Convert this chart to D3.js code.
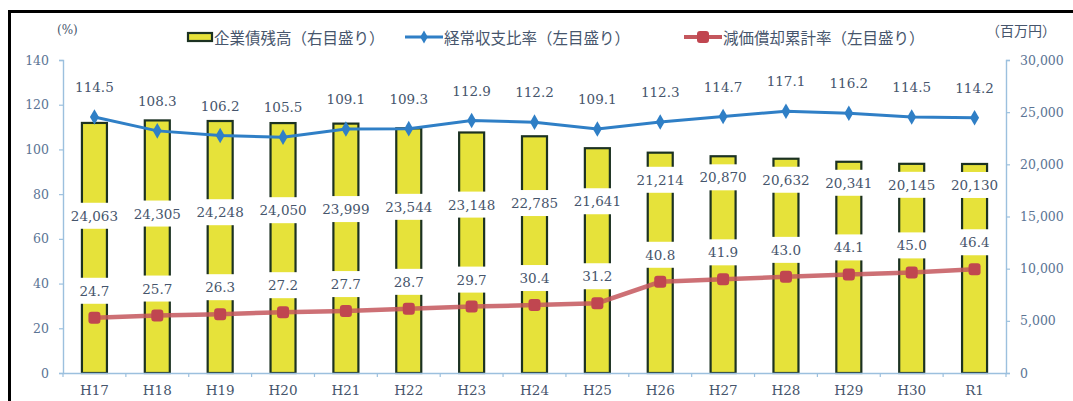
<!DOCTYPE html>
<html><head><meta charset="utf-8">
<script src="https://cdn.jsdelivr.net/npm/d3@7"></script>
<style>
html,body{margin:0;padding:0;background:#fff;}
svg{display:block;}
</style></head>
<body>
<svg id="chart" width="1073" height="401"></svg>
<script>
const categories = ["H17","H18","H19","H20","H21","H22","H23","H24","H25","H26","H27","H28","H29","H30","R1"];
const debtBalance = [24063,24305,24248,24050,23999,23544,23148,22785,21641,21214,20870,20632,20341,20145,20130];
const currentRatio = [114.5,108.3,106.2,105.5,109.1,109.3,112.9,112.2,109.1,112.3,114.7,117.1,116.2,114.5,114.2];
const deprRatio = [24.7,25.7,26.3,27.2,27.7,28.7,29.7,30.4,31.2,40.8,41.9,43.0,44.1,45.0,46.4];
const leftTicks = [0,20,40,60,80,100,120,140];
const rightTicks = [0,5000,10000,15000,20000,25000,30000];
const legendLabels = ["企業債残高（右目盛り）","経常収支比率（左目盛り）","減価償却累計率（左目盛り）"];
const unitLeft = "(%)";
const unitRight = "（百万円）";

const svg = d3.select("#chart");
const W = 1073, H = 401;
const m = {left:63, right:1006, top:60, bottom:373};
const serif = "'DejaVu Serif', 'Liberation Serif', serif";
const cjk = "'Noto Sans CJK JP', sans-serif";
const labelColor = "#46556c";
const tickColor = "#5b7494";
const axisColor = "#9cc0de";
const blue = "#2f7fc6";
const red = "#c4575d";
const yellow = "#e6e23a";
const barStroke = "#1c3222";

// frame
svg.append("line").attr("x1",8).attr("x2",W).attr("y1",11.5).attr("y2",11.5).attr("stroke","#000").attr("stroke-width",3);
svg.append("line").attr("x1",9.5).attr("x2",9.5).attr("y1",10).attr("y2",H).attr("stroke","#000").attr("stroke-width",3);

const x = d3.scaleBand().domain(categories).range([m.left, m.right]).paddingInner(0).paddingOuter(0);
const yL = d3.scaleLinear().domain([0,140]).range([m.bottom, m.top]);
const yR = d3.scaleLinear().domain([0,30000]).range([m.bottom, m.top]);
const bw = 27;
const cx = c => x(c) + x.bandwidth()/2;

// bars
svg.append("g").selectAll("rect").data(categories).join("rect")
  .attr("x", c => cx(c) - bw/2 + 1)
  .attr("width", bw - 2)
  .attr("y", (c,i) => yR(debtBalance[i]) + 1)
  .attr("height", (c,i) => m.bottom - yR(debtBalance[i]) - 1)
  .attr("fill", yellow).attr("stroke", barStroke).attr("stroke-width", 2.2);

// axes
const gL = svg.append("g").attr("transform",`translate(${m.left},0)`)
  .call(d3.axisLeft(yL).tickValues(leftTicks).tickSize(4).tickPadding(10).tickFormat(d3.format("d")));
const gR = svg.append("g").attr("transform",`translate(${m.right},0)`)
  .call(d3.axisRight(yR).tickValues(rightTicks).tickSize(4).tickPadding(10).tickFormat(d3.format(",")));
const gX = svg.append("g").attr("transform",`translate(0,${m.bottom})`)
  .call(d3.axisBottom(x).tickSize(0).tickPadding(12));
const xb = d3.scaleLinear().domain([0,categories.length]).range([m.left,m.right]);
svg.append("g").selectAll("line").data(d3.range(0,categories.length+1)).join("line")
  .attr("x1", i => xb(i)).attr("x2", i => xb(i)).attr("y1", m.bottom).attr("y2", m.bottom+4)
  .attr("stroke", axisColor).attr("stroke-width",1.2);

[gL,gR,gX].forEach(g => {
  g.selectAll("path").attr("stroke", axisColor).attr("stroke-width",1.4);
  g.selectAll("line").attr("stroke", axisColor).attr("stroke-width",1.2);
  g.selectAll("text").attr("fill", tickColor).attr("font-family", serif).attr("font-size", 12.5);
});
gX.selectAll("text").attr("font-size", 13.5).attr("fill", labelColor);

// lines
const lineL = d3.line().x(d => cx(d.c)).y(d => yL(d.v));
const blueData = categories.map((c,i) => ({c, v: currentRatio[i]}));
const redData = categories.map((c,i) => ({c, v: deprRatio[i]}));

svg.append("path").datum(redData).attr("d", lineL).attr("fill","none")
  .attr("stroke", red).attr("stroke-width", 4.5).attr("stroke-opacity",0.85);
svg.append("g").selectAll("rect").data(redData).join("rect")
  .attr("x", d => cx(d.c)-6).attr("y", d => yL(d.v)-6).attr("width",12).attr("height",12).attr("rx",3)
  .attr("fill", "#c04650");

svg.append("path").datum(blueData).attr("d", lineL).attr("fill","none")
  .attr("stroke", blue).attr("stroke-width", 3);
svg.append("g").selectAll("path").data(blueData).join("path")
  .attr("d", d3.symbol().type(d3.symbolDiamond).size(70))
  .attr("transform", d => `translate(${cx(d.c)},${yL(d.v)})`)
  .attr("fill", blue);

// labels with white backgrounds
function boxedLabel(g, xPos, yPos, text, size){
  const t = g.append("text").attr("x", xPos).attr("y", yPos).attr("text-anchor","middle")
    .attr("dominant-baseline","central").attr("font-family", serif).attr("font-size", size)
    .attr("fill", labelColor).text(text);
  const bb = t.node().getBBox();
  g.insert("rect", "text").attr("x", bb.x-3).attr("y", yPos-13).attr("width", bb.width+6).attr("height", 26).attr("fill","#fff");
}
const lblG = svg.append("g");
const fmtC = d3.format(",");
const redLabelY = (v) => yL(v) - 27;
categories.forEach((c,i) => {
  const g = lblG.append("g");
  const ry = redLabelY(deprRatio[i]);
  const barTop = yR(debtBalance[i]);
  const by = Math.max(ry - 75, barTop + 22);
  boxedLabel(g, cx(c), by, fmtC(debtBalance[i]), 13.5);
  boxedLabel(g, cx(c), ry, deprRatio[i].toFixed(1), 13.5);
  g.append("text").attr("x", cx(c)).attr("y", yL(currentRatio[i]) - 30)
    .attr("text-anchor","middle").attr("dominant-baseline","central")
    .attr("font-family", serif).attr("font-size", 13.5).attr("fill", labelColor)
    .text(currentRatio[i].toFixed(1));
});

// units
svg.append("text").attr("x", 57).attr("y", 34).attr("font-family", serif).attr("font-size", 12)
  .attr("fill", labelColor).text(unitLeft);
svg.append("text").attr("x", 1021).attr("y", 36).attr("text-anchor","middle").attr("font-family", cjk).attr("font-size", 14)
  .attr("fill", labelColor).text(unitRight);

// legend
const lg = svg.append("g");
const legY = 37;
lg.append("rect").attr("x",188).attr("y",legY-4).attr("width",24).attr("height",8)
  .attr("fill",yellow).attr("stroke",barStroke).attr("stroke-width",2.2);
lg.append("text").attr("x",214).attr("y",legY).attr("dominant-baseline","central")
  .attr("font-family",cjk).attr("font-size",15.5).attr("fill",labelColor).text(legendLabels[0]);
lg.append("line").attr("x1",405).attr("x2",443).attr("y1",legY).attr("y2",legY).attr("stroke",blue).attr("stroke-width",3);
lg.append("path").attr("d", d3.symbol().type(d3.symbolDiamond).size(50)).attr("transform",`translate(424,${legY})`).attr("fill",blue);
lg.append("text").attr("x",444).attr("y",legY).attr("dominant-baseline","central")
  .attr("font-family",cjk).attr("font-size",15.5).attr("fill",labelColor).text(legendLabels[1]);
lg.append("line").attr("x1",684).attr("x2",722).attr("y1",legY).attr("y2",legY).attr("stroke",red).attr("stroke-width",4);
lg.append("rect").attr("x",697).attr("y",legY-6).attr("width",12).attr("height",12).attr("rx",3).attr("fill","#c04650");
lg.append("text").attr("x",723).attr("y",legY).attr("dominant-baseline","central")
  .attr("font-family",cjk).attr("font-size",15.5).attr("fill",labelColor).text(legendLabels[2]);
</script>
</body></html>
